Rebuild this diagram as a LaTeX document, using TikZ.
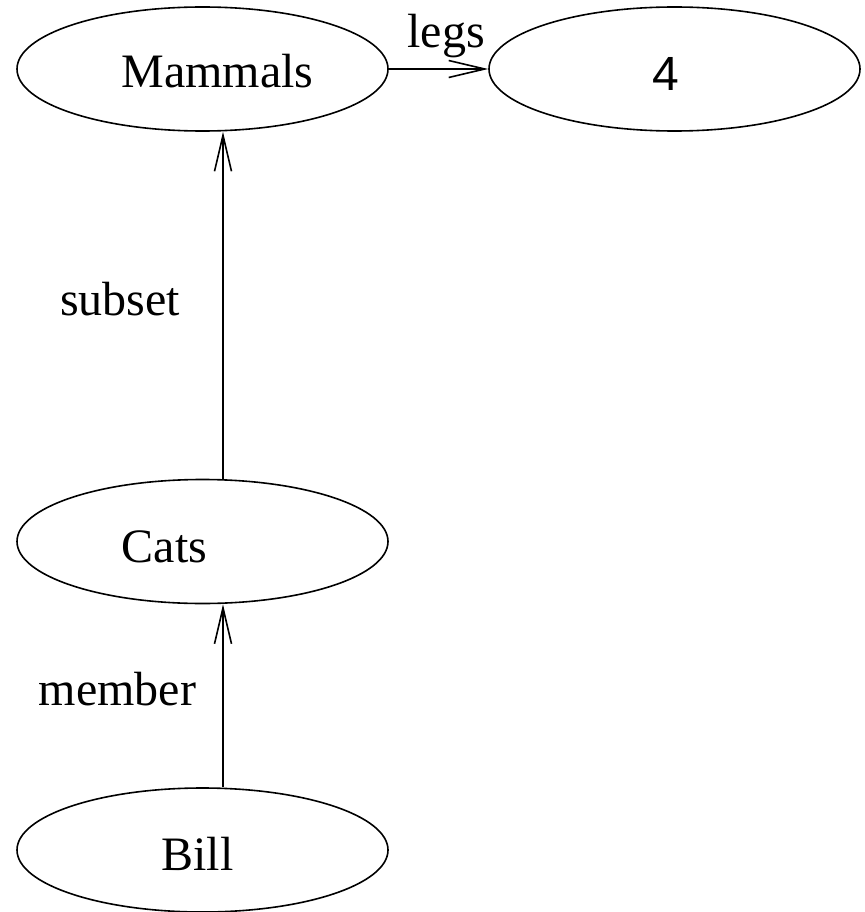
\documentclass[tikz,border=0pt]{standalone}
\usepackage{fontspec}
\setmainfont{Liberation Serif}
\newfontfamily\digitfont{Liberation Sans}
\usetikzlibrary{shapes.geometric,arrows.meta}
\tikzset{
  oval/.style={draw, ellipse, line width=1.6pt, minimum width=371pt, minimum height=124pt, inner sep=0pt},
  txt/.style={anchor=base, inner sep=0pt, font=\fontsize{48}{56}\selectfont},
  arr/.style={line width=1.6pt, -{Straight Barb[length=36pt,width=17pt,line width=1.6pt]}}
}
\begin{document}
\begin{tikzpicture}[x=1pt,y=-1pt]
\useasboundingbox (0,0) rectangle (864,912);
\node[oval] (m) at (202.5,69) {};
\node[oval] (f) at (674.5,69) {};
\node[oval] (c) at (202.5,541.5) {};
\node[oval] (b) at (202.5,850) {};
\node[txt] (mt) at (217.5,88) {Mammals};
\node[txt, font=\fontsize{48}{56}\selectfont\digitfont] (ft) at (665.5,91) {4};
\node[txt] (ct) at (164.5,562) {Cats};
\node[txt] (bt) at (197.5,870) {Bill};
\draw[arr] (m.east) -- (f.west);
\draw[arr] ([xshift=20.5pt]c.north) -- ([xshift=20.5pt]m.south);
\draw[arr] ([xshift=20.5pt]b.north) -- ([xshift=20.5pt]c.south);
\node[txt] (legs) at (446,48) {legs};
\node[txt] (subset) at (120,315) {subset};
\node[txt] (member) at (117.5,705) {member};
\end{tikzpicture}
\end{document}
